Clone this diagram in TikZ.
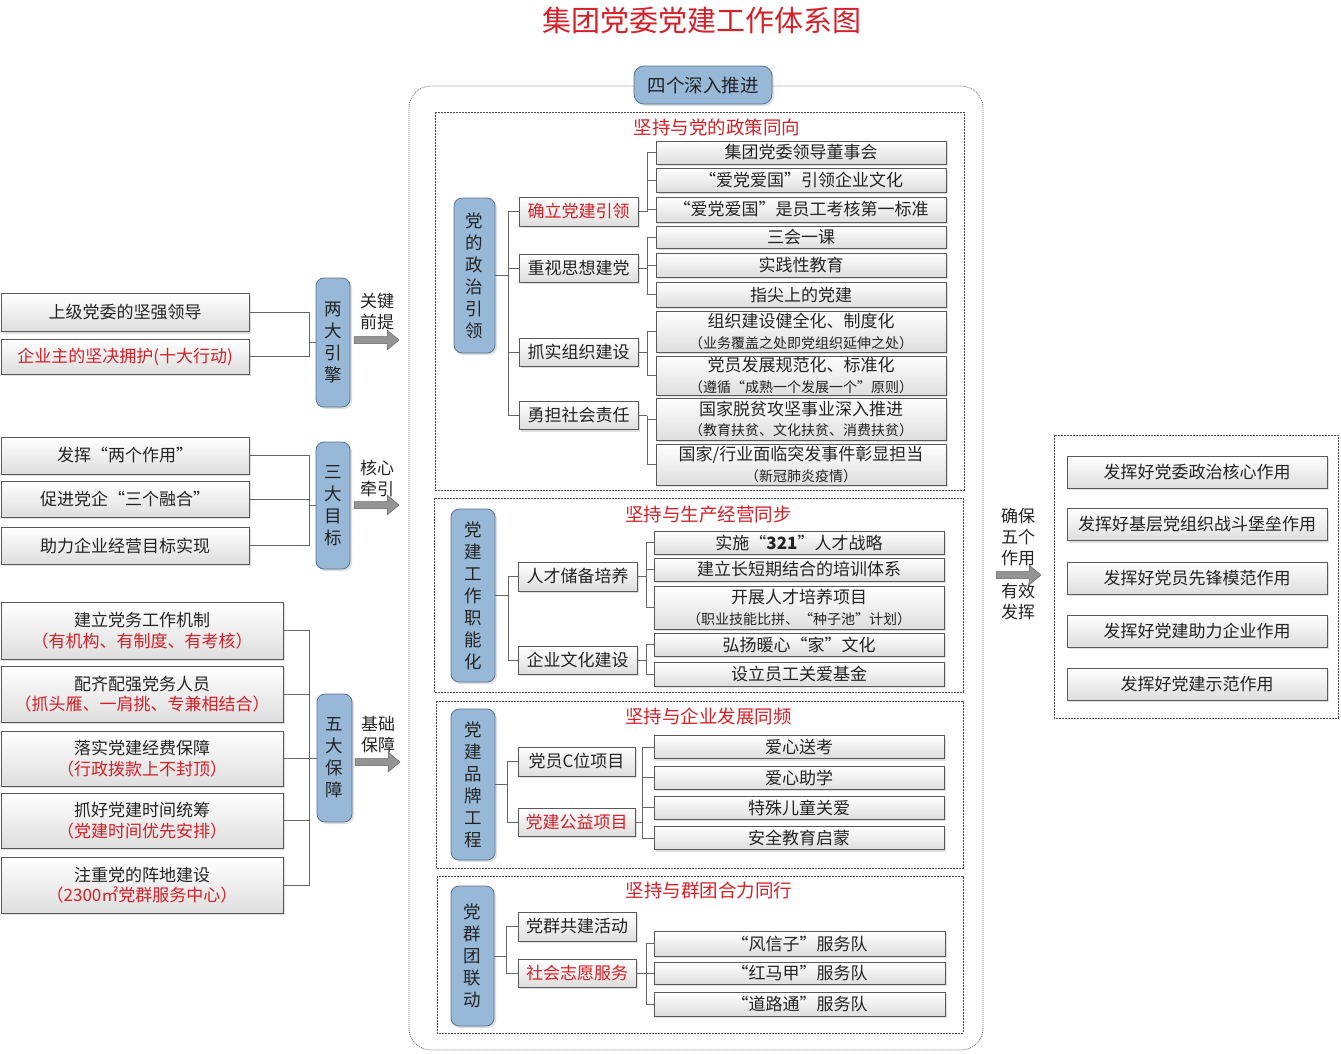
\documentclass[tikz,border=0pt]{standalone}
\usepackage{fontspec}
\setmainfont{Noto Sans CJK SC}
\newfontfamily\quanjiao{Noto Sans CJK SC}[RawFeature=+fwid]
\usetikzlibrary{shadows}

\definecolor{hongse}{RGB}{214,32,40}
\definecolor{lanse}{RGB}{152,184,216}
\definecolor{lanbian}{RGB}{88,114,146}
\definecolor{zi}{RGB}{35,35,35}
\newcommand{\xiaozi}{\fontsize{14}{16}\selectfont}
\newcommand{\zuo}{{\quanjiao “}}
\newcommand{\you}{{\quanjiao ”}}

\tikzset{
	kuang/.style={draw=black!65, line width=0.8pt, top color=white, bottom color=black!13,
		inner sep=0pt, text=zi, align=center, font=\fontsize{17}{20.5}\selectfont,
		drop shadow={opacity=0.25, shadow xshift=2pt, shadow yshift=-2pt}},
	zhu/.style={draw=lanbian, line width=0.8pt, fill=lanse, rounded corners=8pt, inner sep=0pt,
		text=zi, align=center, font=\fontsize{17.5}{22}\selectfont,
		drop shadow={opacity=0.25, shadow xshift=2pt, shadow yshift=-2pt}},
	biaoti/.style={text=hongse, font=\fontsize{18.5}{20}\selectfont},
	xuxian/.style={draw=black!70, dash pattern=on 2pt off 1pt, line width=0.6pt},
	link/.style={draw=black!60, line width=0.7pt},
	zhushi/.style={text=zi, align=center, font=\fontsize{17}{21}\selectfont},
	pics/jiantou/.style={code={
		\draw[draw=black!60, fill=black!42, line width=0.5pt]
			(0,-3.5) -- (33,-3.5) -- (33,-10) -- (45,0) -- (33,10) -- (33,3.5) -- (0,3.5) -- cycle;}}
}

\begin{document}
\begin{tikzpicture}[x=1pt, y=-1pt]
	\useasboundingbox (0,0) rectangle (1341,1053);
	\node[text=hongse, font=\fontsize{29}{32}\selectfont] (title) at (702,20) {集团党委党建工作体系图};

	% left side
	\node[kuang, minimum width=248, minimum height=38] (L1) at (125,312.5) {上级党委的坚强领导};
	\node[kuang, minimum width=248, minimum height=35, text=hongse] (L2) at (125,356.5) {企业主的坚决拥护(十大行动)};
	\node[kuang, minimum width=248, minimum height=37] (L3) at (125,455.5) {发挥\zuo{}两个作用\you};
	\node[kuang, minimum width=248, minimum height=36] (L4) at (125,499) {促进党企\zuo{}三个融合\you};
	\node[kuang, minimum width=248, minimum height=37] (L5) at (125,545.5) {助力企业经营目标实现};
	\node[kuang, minimum width=282, minimum height=57] (L6) at (142,630.5) {建立党务工作机制\\{\color{hongse}（有机构、有制度、有考核）}};
	\node[kuang, minimum width=282, minimum height=56] (L7) at (142,694) {配齐配强党务人员\\{\color{hongse}（抓头雁、一肩挑、专兼相结合）}};
	\node[kuang, minimum width=282, minimum height=55] (L8) at (142,758.5) {落实党建经费保障\\{\color{hongse}（行政拨款上不封顶）}};
	\node[kuang, minimum width=282, minimum height=55] (L9) at (142,820.5) {抓好党建时间统筹\\{\color{hongse}（党建时间优先安排）}};
	\node[kuang, minimum width=282, minimum height=56] (L10) at (142,885) {注重党的阵地建设\\{\color{hongse}（2300㎡党群服务中心）}};

	\node[zhu, minimum width=34, minimum height=129] (P1) at (333,342.5) {两\\大\\引\\擎};
	\node[zhu, minimum width=34, minimum height=127] (P2) at (333,505.5) {三\\大\\目\\标};
	\node[zhu, minimum width=35, minimum height=128] (P3) at (334.5,758) {五\\大\\保\\障};

	\coordinate (j1) at ([xshift=-6pt]P1.west);
	\coordinate (j2) at ([xshift=-6pt]P2.west);
	\coordinate (j3) at ([xshift=-7pt]P3.west);
	\draw[link] (P1.west) -- (j1);
	\draw[link] (P2.west) -- (j2);
	\draw[link] (P3.west) -- (j3);
	\foreach \b in {L1,L2} \draw[link] (\b.east) -| (j1);
	\foreach \b in {L3,L4,L5} \draw[link] (\b.east) -| (j2);
	\foreach \b in {L6,L7,L8,L9,L10} \draw[link] (\b.east) -| (j3);

	\node[zhushi] (k1) at (377,312) {关键\\前提};
	\node[zhushi] (k2) at (377,478) {核心\\牵引};
	\node[zhushi] (k3) at (378,735) {基础\\保障};
	\pic at (354,340) {jiantou};
	\pic at (354,505) {jiantou};
	\pic at (355,762) {jiantou};

	% middle frame
	\draw[draw=black!55, dash pattern=on 1pt off 1pt, line width=0.8pt, rounded corners=22pt] (409,86) rectangle (983,1050);
	\node[zhu, rounded corners=10pt, font=\fontsize{18.5}{20}\selectfont, minimum width=138, minimum height=38] (P0) at (703,85) {四个深入推进};

	% part 1
	\draw[xuxian] (435,112) rectangle (964,490);
	\node[biaoti] (T1) at (717,127) {坚持与党的政策同向};
	\node[zhu, minimum width=41, minimum height=155] (Q1) at (474.5,275.5) {党\\的\\政\\治\\引\\领};
	\node[kuang, minimum width=119, minimum height=29, text=hongse] (B11) at (578.5,211.5) {确立党建引领};
	\node[kuang, minimum width=119, minimum height=28] (B12) at (578.5,268) {重视思想建党};
	\node[kuang, minimum width=119, minimum height=28] (B13) at (578.5,352) {抓实组织建设};
	\node[kuang, minimum width=119, minimum height=28] (B14) at (578.5,415.5) {勇担社会责任};
	\foreach \n/\y/\h/\t in {C11/152.5/23/集团党委领导董事会, C12/180/24/\zuo{}爱党爱国\you{}引领企业文化,
		C13/209.5/25/\zuo{}爱党爱国\you{}是员工考核第一标准, C14/237/22/三会一课,
		C15/265/24/实践性教育, C16/294.5/25/指尖上的党建}
		\node[kuang, minimum width=290, minimum height=\h] (\n) at (801,\y) {\t};
	\node[kuang, minimum width=290, minimum height=41] (C17) at (801,331.5) {组织建设健全化、制度化\\{\xiaozi （业务覆盖之处即党组织延伸之处）}};
	\node[kuang, minimum width=290, minimum height=39] (C18) at (801,375.5) {党员发展规范化、标准化\\{\xiaozi （遵循\zuo{}成熟一个发展一个\you{}原则）}};
	\node[kuang, minimum width=290, minimum height=42] (C19) at (801,419) {国家脱贫攻坚事业深入推进\\{\xiaozi （教育扶贫、文化扶贫、消费扶贫）}};
	\node[kuang, minimum width=290, minimum height=41] (C1a) at (801,464.5) {国家/行业面临突发事件彰显担当\\{\xiaozi （新冠肺炎疫情）}};
	\coordinate (jq1) at ([xshift=13pt]Q1.east);
	\draw[link] (Q1.east) -- (jq1);
	\foreach \b in {B11,B12,B13,B14} \draw[link] (\b.west) -| (jq1);
	\foreach \p/\cs in {B11/{C11,C12,C13}, B12/{C14,C15,C16}, B13/{C17,C18}, B14/{C19,C1a}} {
		\coordinate (j\p) at ([xshift=9pt]\p.east);
		\draw[link] (\p.east) -- (j\p);
		\foreach \c in \cs \draw[link] (\c.west) -| (j\p);
	}

	% part 2
	\draw[xuxian] (434,498) rectangle (963,692);
	\node[biaoti] (T2) at (708.5,515) {坚持与生产经营同步};
	\node[zhu, minimum width=44, minimum height=173] (Q2) at (473,595.5) {党\\建\\工\\作\\职\\能\\化};
	\node[kuang, minimum width=119, minimum height=29] (B21) at (577.5,576.5) {人才储备培养};
	\node[kuang, minimum width=119, minimum height=28] (B22) at (577.5,660) {企业文化建设};
	\node[kuang, minimum width=290, minimum height=23] (C21) at (799,542.5) {实施\zuo\textbf{321}\you{}人才战略};
	\node[kuang, minimum width=290, minimum height=23] (C22) at (799,569.5) {建立长短期结合的培训体系};
	\node[kuang, minimum width=290, minimum height=43] (C23) at (799,607.5) {开展人才培养项目\\{\xiaozi （职业技能比拼、\zuo{}种子池\you{}计划）}};
	\node[kuang, minimum width=290, minimum height=23] (C24) at (799,644.5) {弘扬暖心\zuo{}家\you{}文化};
	\node[kuang, minimum width=290, minimum height=24] (C25) at (799,674) {设立员工关爱基金};
	\coordinate (jq2) at ([xshift=13pt]Q2.east);
	\draw[link] (Q2.east) -- (jq2);
	\foreach \b in {B21,B22} \draw[link] (\b.west) -| (jq2);
	\foreach \p/\cs in {B21/{C21,C22,C23}, B22/{C24,C25}} {
		\coordinate (j\p) at ([xshift=9pt]\p.east);
		\draw[link] (\p.east) -- (j\p);
		\foreach \c in \cs \draw[link] (\c.west) -| (j\p);
	}

	% part 3
	\draw[xuxian] (436,701) rectangle (963,868);
	\node[biaoti] (T3) at (708.5,716) {坚持与企业发展同频};
	\node[zhu, minimum width=44, minimum height=151] (Q3) at (473,784.5) {党\\建\\品\\牌\\工\\程};
	\node[kuang, minimum width=117, minimum height=29] (B31) at (576.5,761.5) {党员C位项目};
	\node[kuang, minimum width=117, minimum height=28, text=hongse] (B32) at (576.5,822) {党建公益项目};
	\foreach \n/\y/\t in {C31/747/爱心送考, C32/777.5/爱心助学, C33/807.5/特殊儿童关爱, C34/838/安全教育启蒙}
		\node[kuang, minimum width=290, minimum height=23] (\n) at (799,\y) {\t};
	\coordinate (jq3) at ([xshift=12pt]Q3.east);
	\draw[link] (Q3.east) -- (jq3);
	\foreach \b in {B31,B32} \draw[link] (\b.west) -| (jq3);
	\coordinate (jB32) at ([xshift=7pt]B32.east);
	\draw[link] (B32.east) -- (jB32);
	\foreach \c in {C31,C32,C33,C34} \draw[link] (\c.west) -| (jB32);

	% part 4
	\draw[xuxian] (437,876) rectangle (963,1033);
	\node[biaoti] (T4) at (709,890) {坚持与群团合力同行};
	\node[zhu, minimum width=43, minimum height=140] (Q4) at (472.5,956) {党\\群\\团\\联\\动};
	\node[kuang, minimum width=118, minimum height=29] (B41) at (577,926.5) {党群共建活动};
	\node[kuang, minimum width=118, minimum height=28, text=hongse] (B42) at (577,973) {社会志愿服务};
	\node[kuang, minimum width=291, minimum height=25] (C41) at (799.5,943.5) {\zuo{}风信子\you{}服务队};
	\node[kuang, minimum width=291, minimum height=22] (C42) at (799.5,973) {\zuo{}红马甲\you{}服务队};
	\node[kuang, minimum width=291, minimum height=24] (C43) at (799.5,1004) {\zuo{}道路通\you{}服务队};
	\coordinate (jq4) at ([xshift=12pt]Q4.east);
	\draw[link] (Q4.east) -- (jq4);
	\foreach \b in {B41,B42} \draw[link] (\b.west) -| (jq4);
	\coordinate (jB42) at ([xshift=10pt]B42.east);
	\draw[link] (B42.east) -- (jB42);
	\foreach \c in {C41,C42,C43} \draw[link] (\c.west) -| (jB42);

	% right side
	\node[zhushi] (k4) at (1018,537) {确保\\五个\\作用};
	\node[zhushi] (k5) at (1018,602) {有效\\发挥};
	\pic at (996,575) {jiantou};
	\draw[xuxian] (1054,435) rectangle (1338,718);
	\foreach \n/\y/\t in {R1/472/发挥好党委政治核心作用, R2/524.5/发挥好基层党组织战斗堡垒作用,
		R3/578/发挥好党员先锋模范作用, R4/631/发挥好党建助力企业作用, R5/684/发挥好党建示范作用}
		\node[kuang, minimum width=260, minimum height=32] (\n) at (1197,\y) {\t};
\end{tikzpicture}
\end{document}
